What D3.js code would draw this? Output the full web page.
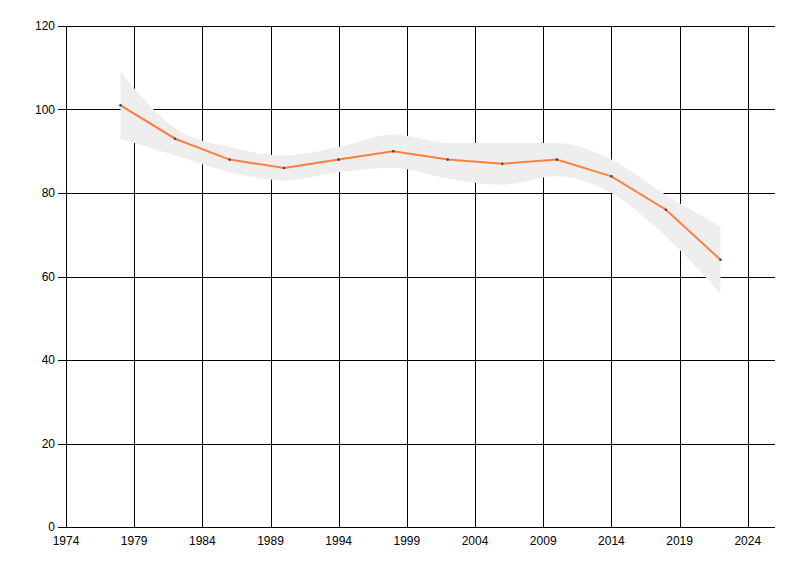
<!DOCTYPE html>
<html>
<head>
<meta charset="utf-8">
<script src="https://cdn.jsdelivr.net/npm/d3@7"></script>
<style>
  body { margin: 0; background: #fff; }
  svg text { font-family: "Liberation Sans", Arial, sans-serif; font-size: 12px; fill: #000; }
</style>
</head>
<body>
<div id="chart"></div>
<script>
var W = 800, H = 576;
var margin = { top: 26, right: 25, bottom: 49, left: 66 };

var years = [1978, 1982, 1986, 1990, 1994, 1998, 2002, 2006, 2010, 2014, 2018, 2022];
var values = [101, 93, 88, 86, 88, 90, 88, 87, 88, 84, 76, 64];
var upper = [109, 95.5, 91, 89, 91, 94, 92, 92, 92, 88, 79.5, 72];
var lower = [93, 89, 85, 83, 85, 86, 83.5, 82, 84, 80, 69.5, 56];
var xTicks = [1974, 1979, 1984, 1989, 1994, 1999, 2004, 2009, 2014, 2019, 2024];
var yTicks = [0, 20, 40, 60, 80, 100, 120];

var svg = d3.select("#chart").append("svg")
  .attr("width", W)
  .attr("height", H);

var x = d3.scaleLinear()
  .domain([1974, 2026])
  .range([margin.left, W - margin.right]);
var y = d3.scaleLinear()
  .domain([0, 120])
  .range([H - margin.bottom, margin.top]);

// grid
svg.append("g").selectAll("line")
  .data(xTicks)
  .enter().append("line")
  .attr("x1", function(d) { return Math.round(x(d)) + 0.5; })
  .attr("x2", function(d) { return Math.round(x(d)) + 0.5; })
  .attr("y1", y(120))
  .attr("y2", y(0))
  .attr("stroke", "#000");
svg.append("g").selectAll("line")
  .data(yTicks)
  .enter().append("line")
  .attr("x1", x(1974) - 8)
  .attr("x2", x(2026))
  .attr("y1", function(d) { return Math.round(y(d)) + 0.5; })
  .attr("y2", function(d) { return Math.round(y(d)) + 0.5; })
  .attr("stroke", "#000");

var pts = years.map(function(d, i) {
  return { year: d, v: values[i], hi: upper[i], lo: lower[i] };
});

// confidence band (opaque, covers grid)
var band = d3.area()
  .curve(d3.curveMonotoneX)
  .x(function(d) { return x(d.year); })
  .y0(function(d) { return y(d.lo); })
  .y1(function(d) { return y(d.hi); });
svg.append("path")
  .datum(pts)
  .attr("d", band)
  .attr("fill", "#eeeeee");

var line = d3.line()
  .x(function(d) { return x(d.year); })
  .y(function(d) { return y(d.v); });
svg.append("path")
  .datum(pts)
  .attr("d", line)
  .attr("fill", "none")
  .attr("stroke", "#ff7f3f")
  .attr("stroke-width", 2);

svg.selectAll(".dot")
  .data(pts)
  .enter().append("circle")
  .attr("class", "dot")
  .attr("cx", function(d) { return x(d.year); })
  .attr("cy", function(d) { return y(d.v); })
  .attr("r", 1.3)
  .attr("fill", "#444");

// axis labels
svg.append("g").selectAll("text")
  .data(xTicks)
  .enter().append("text")
  .attr("x", function(d) { return x(d); })
  .attr("y", y(0) + 18)
  .attr("text-anchor", "middle")
  .text(function(d) { return d; });
svg.append("g").selectAll("text")
  .data(yTicks)
  .enter().append("text")
  .attr("x", x(1974) - 11)
  .attr("y", function(d) { return y(d) + 4; })
  .attr("text-anchor", "end")
  .text(function(d) { return d; });
</script>
</body>
</html>
